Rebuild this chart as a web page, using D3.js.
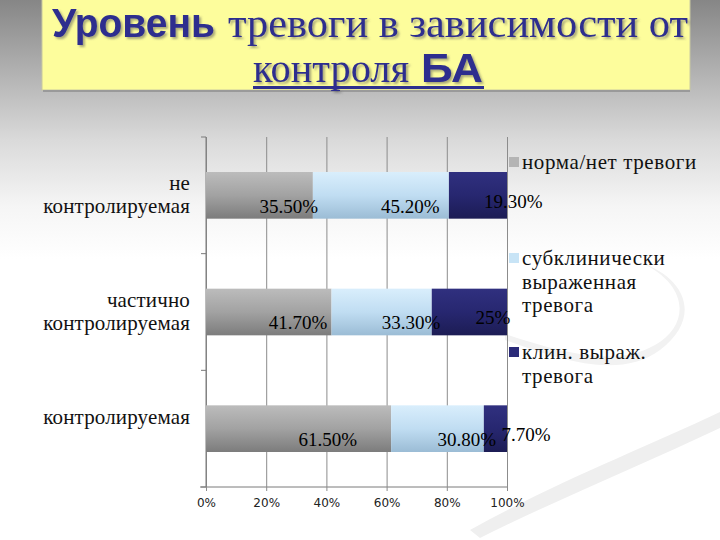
<!DOCTYPE html>
<html><head><meta charset="utf-8">
<script src="https://cdn.jsdelivr.net/npm/d3@7"></script>
<style>body{margin:0;background:#fff}svg{display:block}</style>
</head><body><svg id="c" width="720" height="540"></svg>
<script>
// ---- data ----
const categories = ["не контролируемая", "частично контролируемая", "контролируемая"];
const categoryLines = [["не", "контролируемая"], ["частично", "контролируемая"], ["контролируемая"]];
const seriesKeys = ["norm", "subclin", "clin"];
const seriesNames = ["норма/нет тревоги", "субклинически выраженная тревога", "клин. выраж. тревога"];
const legendLines = [["норма/нет тревоги"], ["субклинически", "выраженная", "тревога"], ["клин. выраж.", "тревога"]];
const normValues = [35.5, 41.7, 61.5];
const subclinValues = [45.2, 33.3, 30.8];
const clinValues = [19.3, 25.0, 7.7];
const normLabels = ["35.50%", "41.70%", "61.50%"];
const subclinLabels = ["45.20%", "33.30%", "30.80%"];
const clinLabels = ["19.30%", "25%", "7.70%"];
const xTicks = [0, 20, 40, 60, 80, 100];
const xTickLabels = ["0%", "20%", "40%", "60%", "80%", "100%"];

const rows = categories.map((c, i) => ({cat: c, norm: normValues[i], subclin: subclinValues[i], clin: clinValues[i]}));
const labelSets = {norm: normLabels, subclin: subclinLabels, clin: clinLabels};

const SERIF = "'Liberation Serif'";
const SANS_B = "'Liberation Sans'";

const svg = d3.select("#c");
const defs = svg.append("defs");

// background gradient
const bg = defs.append("linearGradient").attr("id", "bg").attr("x1", 0).attr("y1", 0).attr("x2", 0).attr("y2", 1);
bg.append("stop").attr("offset", "0%").attr("stop-color", "#868686");
bg.append("stop").attr("offset", "12%").attr("stop-color", "#adadad");
bg.append("stop").attr("offset", "26%").attr("stop-color", "#dadada");
bg.append("stop").attr("offset", "38%").attr("stop-color", "#f5f5f5");
bg.append("stop").attr("offset", "48%").attr("stop-color", "#ffffff");
svg.append("rect").attr("width", 720).attr("height", 540).attr("fill", "url(#bg)");

// faint decorative swoosh
const deco = svg.append("g").attr("stroke", "none");
deco.append("path").attr("fill", "#efefef").attr("d", "M470,530 C560,480 640,450 720,412 L720,428 C640,466 560,498 480,538 Z");
deco.append("path").attr("fill", "#f2f2f2").attr("d", "M505,340 C560,360 620,380 660,350 C700,320 690,280 640,262 C690,285 690,325 655,345 C615,368 560,352 505,334 Z");

// bar gradients
const gradSpecs = {
  norm: ["#bcbcbc", "#a2a2a2", "#7c7c7c"],
  subclin: ["#d9eefc", "#c0ddf2", "#9bbcd5"],
  clin: ["#30307f", "#272770", "#1c1c54"]
};
Object.entries(gradSpecs).forEach(([k, c]) => {
  const g = defs.append("linearGradient").attr("id", "g_" + k).attr("x1", 0).attr("y1", 0).attr("x2", 0).attr("y2", 1);
  g.append("stop").attr("offset", "0%").attr("stop-color", c[0]);
  g.append("stop").attr("offset", "50%").attr("stop-color", c[1]);
  g.append("stop").attr("offset", "100%").attr("stop-color", c[2]);
});

const shadow = defs.append("filter").attr("id", "sh").attr("x", "-5%").attr("y", "-20%").attr("width", "115%").attr("height", "150%");
shadow.append("feDropShadow").attr("dx", 2).attr("dy", 2).attr("stdDeviation", 0.8).attr("flood-color", "#555").attr("flood-opacity", 0.5);

// ---- title box ----
svg.append("rect").attr("x", 42).attr("y", -2).attr("width", 648).attr("height", 92)
  .attr("fill", "#fdfd9c").attr("stroke", "#c8c8a0").attr("stroke-width", 1);
svg.append("line").attr("x1", 43).attr("x2", 690).attr("y1", 91).attr("y2", 91).attr("stroke", "#9a9a9a").attr("stroke-width", 2);

const navy = "#2d2f8e";
svg.append("text").attr("y", 37).attr("x", 52).attr("fill", navy).attr("filter", "url(#sh)")
  .attr("font-family", SANS_B).attr("font-weight", "bold").attr("font-size", 40)
  .attr("textLength", 163).attr("lengthAdjust", "spacingAndGlyphs").text("Уровень");
svg.append("text").attr("y", 37).attr("x", 228).attr("fill", navy).attr("filter", "url(#sh)")
  .attr("font-family", SERIF).attr("font-size", 40)
  .attr("textLength", 460).attr("lengthAdjust", "spacingAndGlyphs").text("тревоги в зависимости от");
svg.append("text").attr("y", 82).attr("x", 253).attr("fill", navy).attr("filter", "url(#sh)")
  .attr("font-family", SERIF).attr("font-size", 40)
  .attr("textLength", 156).attr("lengthAdjust", "spacingAndGlyphs").text("контроля");
svg.append("text").attr("y", 82).attr("x", 421).attr("fill", navy).attr("filter", "url(#sh)")
  .attr("font-family", SANS_B).attr("font-weight", "bold").attr("font-size", 40)
  .attr("textLength", 62).attr("lengthAdjust", "spacingAndGlyphs").text("БА");
svg.append("rect").attr("x", 253).attr("y", 86).attr("width", 231).attr("height", 3).attr("fill", navy);

// ---- chart ----
const x = d3.scaleLinear().domain([0, 100]).range([206, 507]);
const y = d3.scaleBand().domain(categories).range([137, 487]).paddingInner(0.6).paddingOuter(0.3);
const bandTop = d3.scaleBand().domain(categories).range([137, 487]);

// gridlines + bottom axis
const xAxis = d3.axisBottom(x).tickValues(xTicks).tickFormat((d, i) => xTickLabels[i]).tickSize(-350).tickPadding(11);
const ax = svg.append("g").attr("transform", "translate(0,487)").call(xAxis);
ax.select(".domain").attr("stroke", "#7a7a7a").attr("d", "M200,0H507");
ax.selectAll(".tick line").attr("stroke", "#8c8c8c").attr("y2", 4).attr("y1", -350);
ax.selectAll(".tick text").attr("font-family", "'DejaVu Sans'").attr("font-size", 12).attr("fill", "#222");

// left axis line + category ticks
const yAxis = d3.axisLeft(bandTop).tickSize(0).tickFormat("");
const ay = svg.append("g").attr("transform", "translate(206,0)").call(yAxis);
ay.select(".domain").attr("stroke", "#7a7a7a").attr("d", "M0,137V487");
svg.append("g").selectAll("line").data(categories.concat(["end"])).join("line")
  .attr("x1", 201).attr("x2", 206)
  .attr("y1", (d, i) => i < categories.length ? bandTop(d) : 487)
  .attr("y2", (d, i) => i < categories.length ? bandTop(d) : 487)
  .attr("stroke", "#7a7a7a");

// stacked bars
const stack = d3.stack().keys(seriesKeys)(rows);
const layers = svg.append("g").selectAll("g").data(stack).join("g").attr("fill", d => "url(#g_" + d.key + ")");
layers.selectAll("rect").data(d => d).join("rect")
  .attr("x", d => x(d[0])).attr("width", d => x(d[1]) - x(d[0]))
  .attr("y", d => y(d.data.cat)).attr("height", y.bandwidth());

// value labels
const lab = svg.append("g").attr("font-family", SERIF).attr("font-size", 19).attr("fill", "#000");
stack.forEach(layer => {
  layer.forEach((d, i) => {
    const mid = x((d[0] + d[1]) / 2);
    const isLast = layer.key === "clin";
    lab.append("text")
      .attr("x", mid + (isLast ? 6 : 0))
      .attr("y", y(d.data.cat) + y.bandwidth() - (isLast ? 11 : 6))
      .text(labelSets[layer.key][i]);
  });
});

// category labels
const catG = svg.append("g").attr("font-family", SERIF).attr("font-size", 21).attr("letter-spacing", 0.15).attr("fill", "#111").attr("text-anchor", "end");
categories.forEach((c, i) => {
  const cy = y(c) + y.bandwidth() / 2;
  categoryLines[i].forEach((ln, j) => {
    catG.append("text").attr("x", 190).attr("y", cy - 11 + 23 * j + 6).text(ln);
  });
});

// legend
const legendY = [163, 259, 353];
const legendColors = ["#b4b4b4", "#c8e4f6", "#2a2a78"];
const lg = svg.append("g").attr("font-family", SERIF).attr("font-size", 21).attr("letter-spacing", 0.6).attr("fill", "#111");
seriesNames.forEach((s, i) => {
  lg.append("rect").attr("x", 509).attr("y", legendY[i] - 6).attr("width", 10).attr("height", 10).attr("fill", legendColors[i]);
  legendLines[i].forEach((ln, j) => {
    lg.append("text").attr("x", 522).attr("y", legendY[i] + 23.5 * j + 6).text(ln);
  });
});
</script></body></html>
